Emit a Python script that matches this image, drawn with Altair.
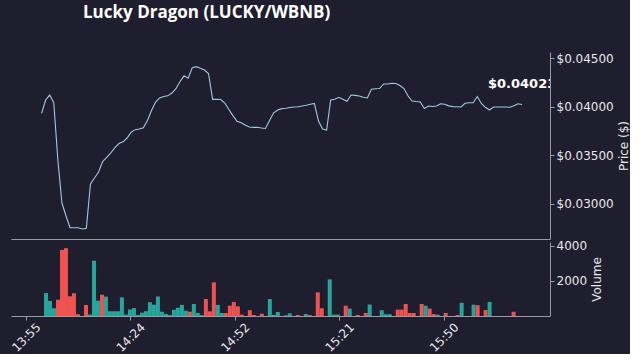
import altair as alt
import pandas as pd

title_text = "Lucky Dragon (LUCKY/WBNB)"
day = (2024, 1, 1)
start_time = "2024-01-01 14:01:25"
step_ms = 65500

prices = [
    0.03932, 0.04069, 0.04120, 0.04041, 0.03452, 0.03009, 0.02876, 0.02755, 0.02755, 0.02755,
    0.02742, 0.02749, 0.03205, 0.03266, 0.03328, 0.03436, 0.03478, 0.03524, 0.03578, 0.03621,
    0.03639, 0.03678, 0.03738, 0.03764, 0.03770, 0.03783, 0.03858, 0.03961, 0.04048, 0.04090,
    0.04106, 0.04112, 0.04141, 0.04185, 0.04259, 0.04318, 0.04293, 0.04401, 0.04412, 0.04395,
    0.04378, 0.04342, 0.04076, 0.04076, 0.04074, 0.04038, 0.03971, 0.03909, 0.03850, 0.03835,
    0.03812, 0.03791, 0.03788, 0.03788, 0.03781, 0.03776, 0.03860, 0.03937, 0.03966, 0.03980,
    0.03984, 0.03992, 0.03997, 0.04000, 0.04007, 0.04015, 0.04025, 0.04034, 0.03853, 0.03771,
    0.03760, 0.04069, 0.04076, 0.04097, 0.04076, 0.04056, 0.04120, 0.04117, 0.04110, 0.04097,
    0.04090, 0.04179, 0.04185, 0.04187, 0.04234, 0.04234, 0.04241, 0.04239, 0.04218, 0.04187,
    0.04110, 0.04059, 0.04053, 0.04049, 0.03981, 0.04007, 0.04002, 0.04007, 0.04031, 0.04025,
    0.04009, 0.04001, 0.04000, 0.03997, 0.04035, 0.04041, 0.04041, 0.04105, 0.04033, 0.03994,
    0.03966, 0.03997, 0.03997, 0.03997, 0.03997, 0.03994, 0.04010, 0.04030, 0.04023,
]

volumes = [
    1300, 850, 440, 925, 3750, 3850, 1120, 1290, 100, 0,
    625, 80, 3140, 870, 1210, 1100, 270, 270, 270, 1060,
    80, 370, 450, 60, 190, 275, 780, 640, 1110, 245,
    115, 50, 350, 470, 630, 300, 245, 680, 170, 50,
    965, 265, 1910, 630, 170, 170, 585, 800, 550, 80,
    0, 330, 60, 0, 130, 0, 960, 60, 230, 0,
    40, 150, 0, 60, 0, 110, 50, 0, 1345, 440,
    0, 2080, 80, 80, 0, 585, 420, 0, 60, 0,
    170, 650, 0, 0, 330, 100, 100, 0, 360, 360,
    680, 170, 170, 0, 680, 585, 420, 110, 75, 0,
    170, 0, 0, 60, 750, 0, 0, 640, 610, 0,
    340, 800, 0, 0, 0, 0, 0, 240, 0,
]

directions = (
    "uuuddddddd" "duuuduuuuu" "uuuuuuuuuu" "uuuuuuduuu" "ddduuddddd"
    "dddddduuuu" "uuuduudddd" "uuuuududdd" "duuuuuuudd" "ddddduddud"
    "dddduuuudd" "duuuuuudd"
)

tick_times = ["13:55:54", "14:24:26", "14:52:59", "15:21:31", "15:50:04"]
x_range = ["13:53:13", "16:17:43"]
price_ticks = [0.03, 0.035, 0.04, 0.045]
price_domain = [0.02639, 0.04563]
volume_ticks = [2000, 4000]
volume_domain = [0, 4200]

BG = "#1e1e2e"
TEXT = "#e8e8e8"
SPINE = "#9a9aa6"
LINE = "#9ecae1"
UP = "#26a69a"
DOWN = "#ef5350"


def dt(hms):
    h, m, s = (int(v) for v in hms.split(":"))
    return alt.DateTime(year=day[0], month=day[1], date=day[2], hours=h, minutes=m, seconds=s)


times = pd.date_range(start_time, periods=len(prices), freq=pd.Timedelta(milliseconds=step_ms))
df = pd.DataFrame({
    "time": times.strftime("%Y-%m-%dT%H:%M:%S"),
    "price": prices,
    "volume": volumes,
    "dir": list(directions),
})

x_scale = alt.Scale(domain=[dt(x_range[0]), dt(x_range[1])])

price_line = alt.Chart(df).mark_line(color=LINE, strokeWidth=1.1).encode(
    x=alt.X("time:T", scale=x_scale,
            axis=alt.Axis(labels=False, ticks=False, domain=True, title=None, grid=False)),
    y=alt.Y("price:Q",
            scale=alt.Scale(domain=price_domain, nice=False, zero=False),
            axis=alt.Axis(orient="right", values=price_ticks, format="$.5f",
                          title="Price ($)", titleAngle=270, titleBaseline="top",
                          titlePadding=5, grid=False)),
)

last_label = alt.Chart(df.tail(1)).mark_text(
    clip=True, dy=-20, align="center", baseline="middle",
    font="DejaVu Sans", fontSize=13, fontWeight="bold", color="#ffffff",
).encode(
    x=alt.X("time:T", scale=x_scale),
    y=alt.Y("price:Q", scale=alt.Scale(domain=price_domain, nice=False, zero=False)),
    text=alt.Text("price:Q", format="$.5f"),
)

price_chart = alt.layer(price_line, last_label).properties(width=539, height=187)

volume_chart = alt.Chart(df).mark_bar(size=4).encode(
    x=alt.X("time:T", scale=x_scale,
            axis=alt.Axis(values=[dt(t) for t in tick_times], format="%H:%M", title=None,
                          labelAngle=315, labelAlign="center", labelBaseline="middle",
                          labelPadding=17, labelOverlap=False,
                          labelFlush=False, labelBound=False, tickSize=4, grid=False)),
    y=alt.Y("volume:Q",
            scale=alt.Scale(domain=volume_domain, nice=False),
            axis=alt.Axis(orient="right", values=volume_ticks, format="d",
                          title="Volume", titleAngle=270, titleBaseline="top",
                          titlePadding=5, grid=False)),
    color=alt.Color("dir:N", scale=alt.Scale(domain=["u", "d"], range=[UP, DOWN]), legend=None),
).properties(width=539, height=74)

chart = alt.vconcat(price_chart, volume_chart, spacing=0).properties(
    title=alt.TitleParams(title_text, font="Open Sans", fontSize=17, fontWeight="bold",
                          color="#ffffff", anchor="start", frame="group", dx=72, offset=30),
    background=BG,
    padding={"left": 9, "top": 4, "right": 0, "bottom": 0},
).configure_view(stroke=None).configure_axis(
    labelFont="DejaVu Sans", labelFontSize=12, labelColor=TEXT,
    titleFont="DejaVu Sans", titleFontSize=12, titleFontWeight="normal", titleColor=TEXT,
    domainColor=SPINE, tickColor=SPINE, tickSize=4, grid=False,
)

chart.save("out.html", embed_options={"renderer": "svg", "actions": False})
